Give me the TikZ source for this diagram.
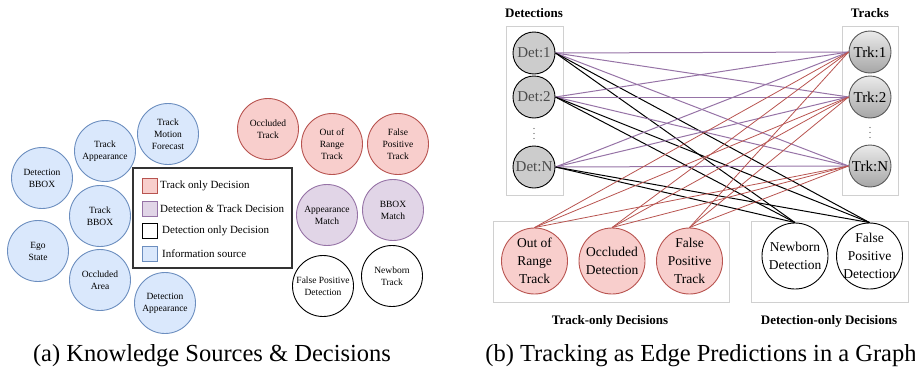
\documentclass[tikz,border=0pt]{standalone}
\usepackage{fontspec}
\setmainfont{Liberation Serif}
\usetikzlibrary{shapes,shapes.misc}
\definecolor{infofill}{HTML}{DAE8FC}
\definecolor{infodraw}{HTML}{6C8EBF}
\definecolor{trkfill}{HTML}{F8CECC}
\definecolor{trkdraw}{HTML}{B85450}
\definecolor{bothfill}{HTML}{E1D5E7}
\definecolor{bothdraw}{HTML}{9673A6}
\definecolor{boxgray}{HTML}{D0D0D0}

\begin{document}
\begin{tikzpicture}[x=1pt, y=-1pt, every node/.append style={align=center}]
      \tikzstyle{src} = [circle, draw=infodraw, fill=infofill, line width=0.9pt,
        minimum size=61pt, inner sep=0pt, font=\fontsize{9.5}{12}\selectfont]
      \tikzstyle{tonly} = [src, draw=trkdraw, fill=trkfill]
      \tikzstyle{both} = [src, draw=bothdraw, fill=bothfill]
      \tikzstyle{donly} = [src, draw=black, fill=white]
      \tikzstyle{legsq} = [rectangle, minimum size=15pt, inner sep=0pt, line width=0.9pt]
      \tikzstyle{legtext} = [anchor=west, inner sep=0pt, font=\fontsize{11}{13}\selectfont]
      \tikzstyle{detnode} = [circle, draw=black, line width=0.9pt, fill=black!20,
        minimum size=42pt, inner sep=0pt, text=black!70, font=\fontsize{15}{17}\selectfont]
      \tikzstyle{trknode} = [detnode, draw=black!65, top color=black!8,
        bottom color=black!35, text=black]
      \tikzstyle{decision} = [circle, line width=0.9pt, minimum size=66pt,
        inner sep=-7pt, font=\fontsize{13.5}{18}\selectfont]
      \tikzstyle{head} = [font=\fontsize{13}{15}\selectfont\bfseries]
      \tikzstyle{caption} = [font=\fontsize{24.5}{28}\selectfont]
      \tikzstyle{pedge} = [draw=bothdraw, line width=1pt]
      \tikzstyle{bedge} = [draw=black, line width=1pt]
      \tikzstyle{redge} = [draw=trkdraw, line width=0.8pt]
      \tikzstyle{grpbox} = [draw=boxgray, line width=1pt]
      \useasboundingbox (0,0) rectangle (915,375);

      % (a)
      \node (detbbox) [src] at (42,178) {Detection\\BBOX};
      \node (trkapp) [src] at (105,151) {Track\\Appearance};
      \node (trkmf) [src] at (168,134) {Track\\Motion\\Forecast};
      \node (trkbbox) [src] at (100,216) {Track\\BBOX};
      \node (ego) [src] at (38,251) {Ego\\State};
      \node (occarea) [src] at (100,280) {Occluded\\Area};
      \node (detapp) [src] at (165,303) {Detection\\Appearance};
      \node (occtrk) [tonly] at (268,129) {Occluded\\Track};
      \node (oortrk) [tonly] at (332,144) {Out of\\Range\\Track};
      \node (fptrk) [tonly] at (398,144) {False\\Positive\\Track};
      \node (appmatch) [both] at (327,215) {Appearance\\Match};
      \node (bbmatch) [both] at (393,210) {BBOX\\Match};
      \node (fpdet) [donly] at (323,286) {False Positive\\Detection};
      \node (nbtrk) [donly] at (392,276) {Newborn\\Track};

      \draw[draw=black!80, line width=1.2pt] (133,168) rectangle (292,268);
      \node (lgt) [legsq, draw=trkdraw, fill=trkfill] at (149.5,186) {};
      \node (lgb) [legsq, draw=bothdraw, fill=bothfill] at (149.5,209) {};
      \node (lgd) [legsq, draw=black, fill=white] at (149.5,231) {};
      \node (lgi) [legsq, draw=infodraw, fill=infofill] at (149.5,254) {};
      \node (lgttext) [legtext] at (160,186) {Track only Decision};
      \node (lgbtext) [legtext] at (160,209) {Detection \& Track Decision};
      \node (lgdtext) [legtext] at (162,231) {Detection only Decision};
      \node (lgitext) [legtext] at (162,254) {Information source};
      \node (capa) [caption] at (212,356) {(a) Knowledge Sources \& Decisions};

      % (b)
      \draw[grpbox] (506,26) rectangle (563,195);
      \draw[grpbox] (842,26) rectangle (898,195);
      \draw[grpbox] (493,221) rectangle (729,302);
      \draw[grpbox] (751,221) rectangle (908,302);
      \node (dets) [head] at (534,13) {Detections};
      \node (trks) [head] at (870,13) {Tracks};
      \node (d1) [detnode] at (534,53) {Det:1};
      \node (d2) [detnode] at (534,97) {Det:2};
      \node (dn) [detnode] at (534,167) {Det:N};
      \node (t1) [trknode] at (870,52) {Trk:1};
      \node (t2) [trknode] at (870,97) {Trk:2};
      \node (tn) [trknode] at (870,166) {Trk:N};
      \foreach \y in {128.5,133.5,138.5} {
        \fill[black!70] (534,\y) circle (0.7pt);
        \fill[black!70] (870,\y-1) circle (0.7pt);
      }
      \node (ort) [decision, draw=trkdraw, fill=trkfill] at (534.5,261) {Out of\\Range\\Track};
      \node (ocd) [decision, draw=trkdraw, fill=trkfill] at (612,261) {Occluded\\Detection};
      \node (fpt) [decision, draw=trkdraw, fill=trkfill] at (689.5,261) {False\\Positive\\Track};
      \node (nbd) [decision, draw=black, fill=white] at (795,256) {Newborn\\Detection};
      \node (fpd) [decision, draw=black, fill=white] at (869.5,256) {False\\Positive\\Detection};
      \foreach \d in {d1,d2,dn} {
        \foreach \t in {t1,t2,tn}
          \draw[pedge] (\d.east) -- (\t.west);
        \foreach \o in {nbd,fpd}
          \draw[bedge] (\d.east) -- (\o.north);
      }
      \foreach \t in {t1,t2,tn}
        \foreach \o in {ort,ocd,fpt}
          \draw[redge] (\t.west) -- (\o.north);
      \node (trkonly) [head] at (610,321) {Track-only Decisions};
      \node (detonly) [head] at (829,321) {Detection-only Decisions};
      \node (capb) [caption] at (701,356) {(b) Tracking as Edge Predictions in a Graph};
    \end{tikzpicture}
\end{document}
